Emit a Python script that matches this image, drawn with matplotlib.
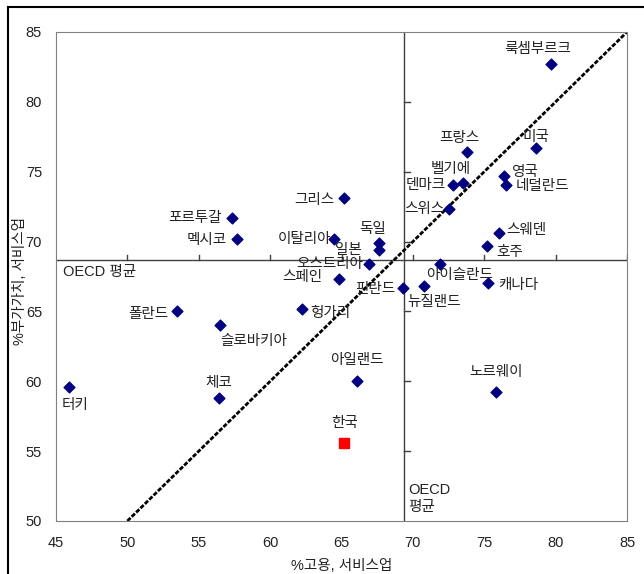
import numpy as np
import matplotlib.pyplot as plt
from matplotlib.lines import Line2D

plt.rcParams['font.family'] = ['Liberation Sans', 'Noto Sans CJK KR', 'DejaVu Sans']

# Data: service sector share of employment (x) vs value added (y)
countries = ['룩셈부르크', '미국', '프랑스', '벨기에', '덴마크', '영국', '네덜란드', '스위스',
             '그리스', '포르투갈', '멕시코', '이탈리아', '독일', '일본', '오스트리아', '스페인',
             '헝가리', '폴란드', '슬로바키아', '체코', '터키', '아이슬란드', '캐나다', '핀란드',
             '뉴질랜드', '호주', '스웨덴', '아일랜드', '노르웨이']
employment = [79.7, 78.6, 73.8, 73.5, 72.8, 76.4, 76.5, 72.5,
              65.2, 57.3, 57.7, 64.5, 67.6, 67.6, 66.9, 64.8,
              62.2, 53.45, 56.5, 56.4, 45.9, 71.9, 75.25, 69.3,
              70.8, 75.2, 76.0, 66.1, 75.8]
value_added = [82.7, 76.7, 76.4, 74.2, 74.05, 74.7, 74.05, 72.3,
               73.1, 71.7, 70.2, 70.2, 69.9, 69.4, 68.4, 67.3,
               65.2, 65.0, 64.0, 58.8, 59.6, 68.4, 67.05, 66.7,
               66.8, 69.7, 70.6, 60.0, 59.2]
korea_emp, korea_va = 65.2, 55.6
oecd_emp, oecd_va = 69.4, 68.7

# label offsets in pixels (dx, dy up) and horizontal alignment
label_pos = {
    '룩셈부르크': (-14, 15, 'center'), '미국': (0, 11, 'center'), '프랑스': (-8, 14, 'center'),
    '벨기에': (-12, 14, 'center'), '덴마크': (-7, 0, 'right'), '영국': (7, 4, 'left'),
    '네덜란드': (10, -1, 'left'), '스위스': (-4, 0, 'right'), '그리스': (-10, -2, 'right'),
    '포르투갈': (-10, 0, 'right'), '멕시코': (-11, -1, 'right'), '이탈리아': (-3, 0, 'right'),
    '독일': (-6, 14, 'center'), '일본': (-17, 0, 'right'), '오스트리아': (-5, 0, 'right'),
    '스페인': (-16, 2, 'right'), '헝가리': (9, -4, 'left'), '폴란드': (-8, -3, 'right'),
    '슬로바키아': (0, -16, 'left'), '체코': (0, 15, 'center'), '터키': (-7, -18, 'left'),
    '아이슬란드': (20, -11, 'center'), '캐나다': (10, -2, 'left'), '핀란드': (-8, -1, 'right'),
    '뉴질랜드': (-17, -16, 'left'), '호주': (9, -6, 'left'), '스웨덴': (8, 3, 'left'),
    '아일랜드': (0, 21, 'center'), '노르웨이': (0, 20, 'center'),
}
txt_color = '#222222'

fig = plt.figure(figsize=(6.44, 5.74), dpi=100)
ax = fig.add_axes([56 / 644, 1 - 521 / 574, 571 / 644, 489 / 574])

# 45 degree line
diag = np.array([50, 85])
ax.plot(diag, diag, color='black', lw=2, linestyle=(0, (1.6, 0.6)), zorder=2)

# OECD average cross lines with their own tick marks
ax.axvline(oecd_emp, color='#404040', lw=1, zorder=1)
ax.axhline(oecd_va, color='#404040', lw=1, zorder=1)
for t in [50, 55, 60, 65, 70, 75, 80, 85]:
    ax.plot([t, t], [oecd_va, oecd_va + 0.35], color='#404040', lw=1, zorder=1)
for t in [55, 60, 65, 70, 75, 80]:
    ax.plot([oecd_emp, oecd_emp + 0.4], [t, t], color='#404040', lw=1, zorder=1)

ax.scatter(employment, value_added, marker='D', s=30, color='#000080', zorder=3)
ax.scatter([korea_emp], [korea_va], marker='s', s=55, color='#ff0000', zorder=3)

for name, x, y in zip(countries, employment, value_added):
    dx, dy, ha = label_pos[name]
    ax.annotate(name, (x, y), xytext=(dx, dy), textcoords='offset pixels',
                ha=ha, va='center', fontsize=10.5, color=txt_color)
ax.annotate('한국', (korea_emp, korea_va), xytext=(0, 20), textcoords='offset pixels',
            ha='center', va='center', fontsize=10.5, color=txt_color)

ax.text(45.5, oecd_va - 0.35, 'OECD 평균', ha='left', va='top', fontsize=10.5, color=txt_color)
ax.text(oecd_emp + 0.3, 51.6, 'OECD\n평균', ha='left', va='center', fontsize=10.5,
        color=txt_color, linespacing=1.3)

ax.set_xlim(45, 85)
ax.set_ylim(50, 85)
ax.set_xticks(range(45, 86, 5))
ax.set_yticks(range(50, 86, 5))
ax.tick_params(length=0, labelsize=10.5, labelcolor=txt_color)
ax.tick_params(axis='x', pad=11)
ax.tick_params(axis='y', pad=10)
for s in ax.spines.values():
    s.set_color('#808080')
ax.set_xlabel('%고용, 서비스업', fontsize=10.5, color=txt_color, labelpad=6)
ax.set_ylabel('%부가가치, 서비스업', fontsize=10.5, color=txt_color, va='center')
ax.yaxis.set_label_coords(-36 / 571, 0.49)

# outer frame (top and left visible)
fig.add_artist(Line2D([8 / 644, 1], [1 - 7 / 574, 1 - 7 / 574], color='black', lw=1.5,
                      transform=fig.transFigure))
fig.add_artist(Line2D([8 / 644, 8 / 644], [0, 1 - 7 / 574], color='black', lw=1.5,
                      transform=fig.transFigure))

fig.savefig('out.png', dpi=100)
